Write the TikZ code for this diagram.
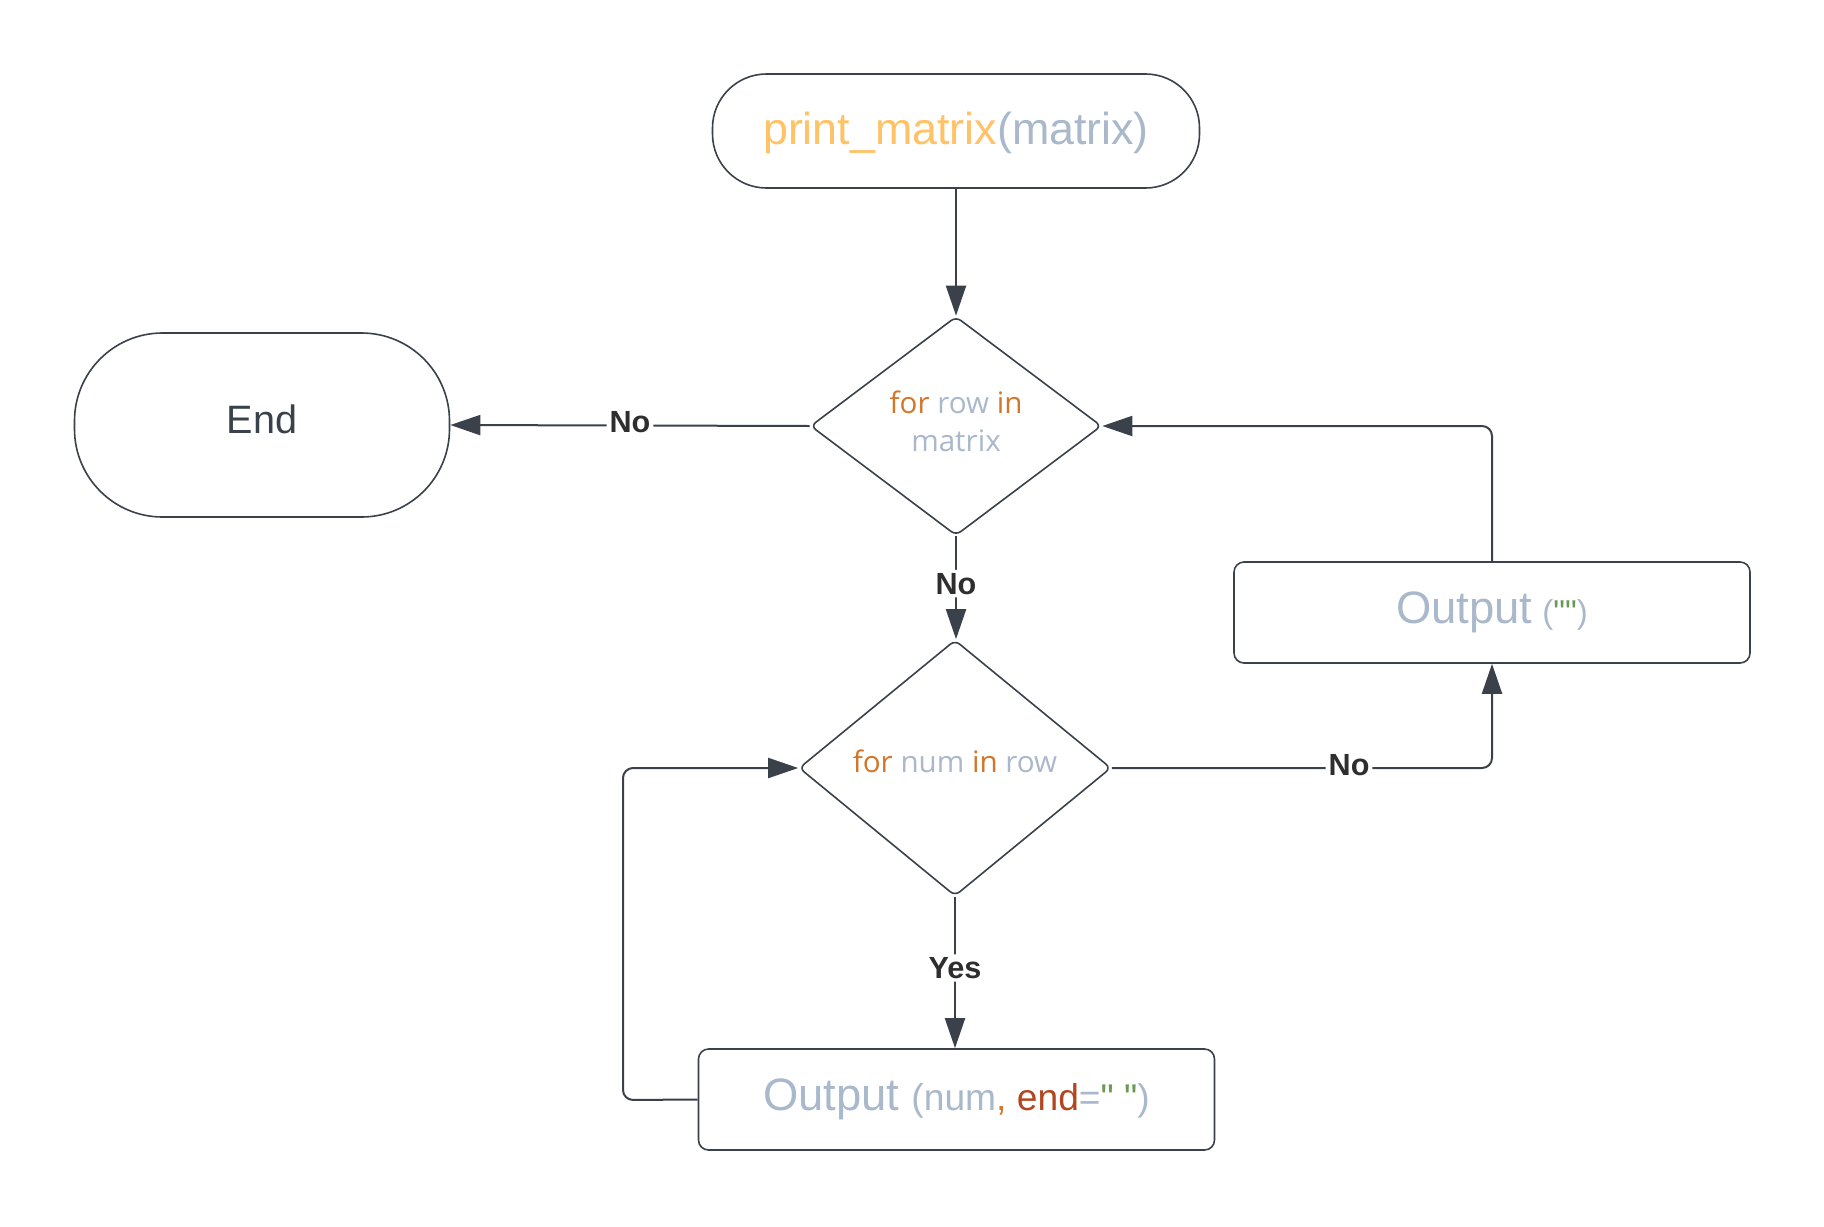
\documentclass[tikz,border=0pt]{standalone}
\usepackage{fontspec}
\setmainfont{Liberation Sans}
\newfontfamily\osans{Open Sans}
\newfontfamily\qfont{Liberation Sans}
\usetikzlibrary{shapes.geometric,arrows.meta}
\definecolor{lc}{HTML}{3A414A}
\definecolor{cyell}{HTML}{FFC266}
\definecolor{cgrey}{HTML}{A9B8CB}
\definecolor{corng}{HTML}{D2762B}
\definecolor{cred}{HTML}{B2461E}
\definecolor{cgreen}{HTML}{6A9955}
\definecolor{lbl}{HTML}{2E2E2E}
\newcommand{\dq}{{\qfont\char34}}
\tikzset{
  terminal/.style={draw=lc, line width=0.8pt, rounded corners=27pt, align=center},
  decision/.style={draw=lc, line width=0.8pt, diamond, rounded corners=3pt, inner sep=0pt, align=center, font=\osans\fontsize{14.8}{19}\selectfont},
  iobox/.style={draw=lc, line width=0.8pt, rounded corners=5pt, minimum height=50.5pt, minimum width=258pt},
  conn/.style={draw=lc, line width=1pt, rounded corners=5pt, -{Triangle[length=15pt,width=10pt]}},
  lab/.style={fill=white, inner sep=1.5pt, text=lbl, font=\bfseries\fontsize{15.3}{18}\selectfont}
}
\begin{document}
\begin{tikzpicture}[x=0.5pt,y=-0.5pt]
\useasboundingbox (0,0) rectangle (1824,1226);
\node[terminal, minimum width=243.5pt, minimum height=57pt, font=\fontsize{22.4}{26}\selectfont] (start) at (956,131)
  {\raisebox{-0.8pt}[\height][\depth]{\textcolor{cyell}{print\_matrix}\textcolor{cgrey}{(matrix)}}};
\node[terminal, rounded corners=44pt, minimum width=187.5pt, minimum height=92pt, text=lc, font=\fontsize{19.8}{24}\selectfont] (end) at (262,425) {\raisebox{2.6pt}[\height][\depth]{End}};
\node[decision, minimum width=145.5pt, minimum height=109.5pt] (d1) at (956,426)
  {\raisebox{0.5pt}[\height][\depth]{\begin{tabular}{@{}c@{}}\textcolor{corng}{for} \textcolor{cgrey}{row} \textcolor{corng}{in}\\[0pt]\textcolor{cgrey}{matrix}\end{tabular}}};
\node[decision, minimum width=156pt, minimum height=128pt] (d2) at (955,768)
  {\raisebox{3.4pt}[\height][\depth]{\textcolor{corng}{for} \textcolor{cgrey}{num} \textcolor{corng}{in} \textcolor{cgrey}{row}}};
\node[iobox] (out1) at (1492,612.5)
  {{\fontsize{22.7}{26}\selectfont\color{cgrey}Output}\hspace{5pt}{\fontsize{16.5}{20}\selectfont\textcolor{cgrey}{(}\textcolor{cgreen}{\dq\dq}\textcolor{cgrey}{)}}};
\node[iobox] (out2) at (956.5,1099.5)
  {{\fontsize{22.7}{26}\selectfont\color{cgrey}Output}\hspace{6pt}{\fontsize{18.6}{22}\selectfont\textcolor{cgrey}{(num}\textcolor{corng}{,} \textcolor{cred}{end}\textcolor{cgrey}{=}\textcolor{cgreen}{\dq\ \dq}\textcolor{cgrey}{)}}};
\coordinate (lp) at (623,1100);
\draw[conn] (start.south) -- (d1.north);
\draw[conn] (d1.west) -- node[lab, pos=0.5, yshift=1.5pt] {No} (end.east);
\draw[conn] (d1.south) -- node[lab, pos=0.46] {No} (d1.south |- d2.north);
\draw[conn] (d2.south) -- node[lab, pos=0.47] {Yes} (d2.south |- out2.north);
\draw[conn] (out2.west) -- (lp) |- (d2.west);
\draw[conn] (d2.east) -| node[lab, pos=0.312, yshift=1.2pt] {No} (out1.south);
\draw[conn] (out1.north) |- (d1.east);
\end{tikzpicture}
\end{document}
